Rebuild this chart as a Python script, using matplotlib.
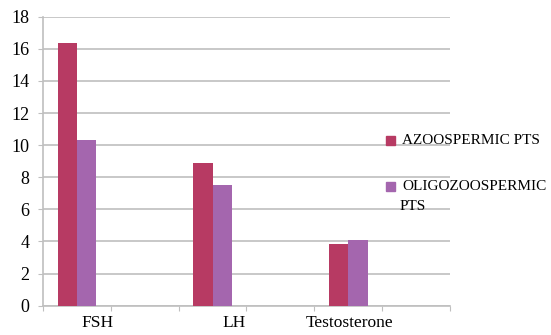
import matplotlib
matplotlib.use('Agg')
import matplotlib.pyplot as plt
from matplotlib.patches import Rectangle
import numpy as np

categories = ['FSH', 'LH', 'Testosterone']
azoo = [16.35, 8.9, 3.85]
oligo = [10.3, 7.5, 4.1]
series_names = ['AZOOSPERMIC PTS', 'OLIGOZOOSPERMIC\nPTS']
yticks = list(range(0, 20, 2))

col_azoo = '#B73A63'
col_oligo = '#A466AE'
grid_col = '#BFBFBF'
serif = 'Liberation Serif'

W, H = 551, 335
fig = plt.figure(figsize=(W/100, H/100), dpi=100)
ax = fig.add_axes([43/W, 1 - 305.7/H, 407/W, 289/H])

# excel put the 3 categories in slots 0,2,4 of a 6-slot axis
pos = np.array([0, 2, 4]) + 0.5
w = 0.285
ax.bar(pos - w/2, azoo, w, color=col_azoo, zorder=3)
ax.bar(pos + w/2, oligo, w, color=col_oligo, zorder=3)

ax.set_xlim(0, 6)
ax.set_ylim(0, 18)
ax.set_yticks(yticks)
ax.yaxis.grid(True, color=grid_col, lw=1.2)
ax.set_axisbelow(True)
ax.set_xticks(range(7))
ax.set_xticklabels([])
ax.tick_params(axis='x', length=3.6, color=grid_col, direction='out')
ax.tick_params(axis='y', length=3.6, color=grid_col, labelsize=13, pad=6)
for lab in ax.get_yticklabels():
    lab.set_family(serif)
for s in ['top', 'right']:
    ax.spines[s].set_visible(False)
for s in ['left', 'bottom']:
    ax.spines[s].set_color(grid_col)
    ax.spines[s].set_linewidth(1.2)

# category labels sit a bit off-center like in the original
lab_x = [0.80, 2.82, 4.52]
for x, c in zip(lab_x, categories):
    ax.text(x, -0.06, c, ha='center', va='center', fontsize=12.5, family=serif,
            transform=ax.get_xaxis_transform())

# legend drawn by hand, it overlaps the plot area in the original
for yc, col, name in [(140, col_azoo, series_names[0]), (186, col_oligo, series_names[1])]:
    fig.add_artist(Rectangle((386/W, 1 - (yc + 4.5)/H), 9/W, 9/H,
                             transform=fig.transFigure, color=col))
    first, *rest = name.split('\n')
    fig.text(402/W, 1 - yc/H, first, ha='left', va='center', fontsize=11, family=serif)
    for i, line in enumerate(rest):
        fig.text(400/W, 1 - (yc + 21*(i+1))/H, line, ha='left', va='center',
                 fontsize=11, family=serif)

fig.savefig('out.png', dpi=100)
